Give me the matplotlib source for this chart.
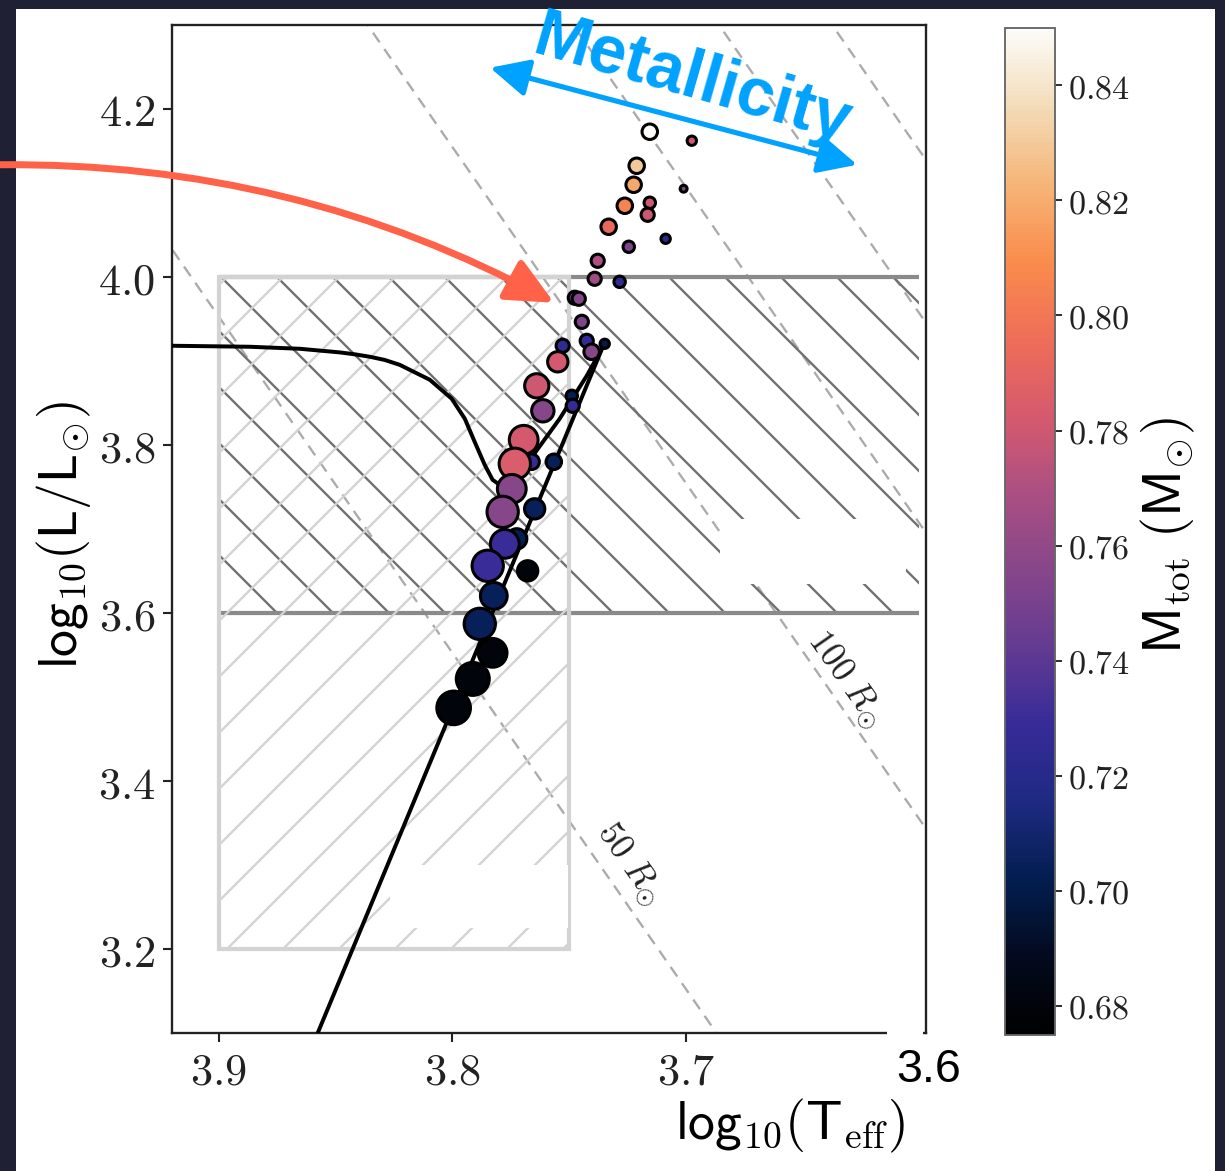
import numpy as np
import matplotlib
matplotlib.use('Agg')
import matplotlib.pyplot as plt
from matplotlib.colors import LinearSegmentedColormap, Normalize
from matplotlib.patches import Rectangle, FancyArrowPatch
from matplotlib.ticker import FormatStrFormatter

# stars: log Teff, log L, total mass (Msun), marker area (pt^2)
log_teff = [3.7154, 3.6974, 3.7210, 3.7223, 3.7009, 3.7261, 3.7154, 3.7163,
            3.7330, 3.7086, 3.7244, 3.7377, 3.7390, 3.7283, 3.7475, 3.7458,
            3.7445, 3.7527, 3.7424, 3.7403, 3.7347, 3.7548, 3.7638, 3.7488,
            3.7484, 3.7612, 3.7694, 3.7660, 3.7565, 3.7732, 3.7745, 3.7784,
            3.7647, 3.7724, 3.7775, 3.7677, 3.7848, 3.7822, 3.7882, 3.7827,
            3.7912, 3.7994]
log_lum = [4.1726, 4.1619, 4.1321, 4.1095, 4.1048, 4.0845, 4.0881, 4.0738,
           4.0595, 4.0452, 4.0357, 4.0190, 3.9976, 3.9940, 3.9750, 3.9738,
           3.9464, 3.9179, 3.9238, 3.9107, 3.9202, 3.8988, 3.8702, 3.8583,
           3.8464, 3.8405, 3.8060, 3.7798, 3.7798, 3.7774, 3.7476, 3.7202,
           3.7238, 3.6881, 3.6821, 3.6500, 3.6560, 3.6202, 3.5869, 3.5524,
           3.5214, 3.4869]
m_tot = [0.850, 0.780, 0.830, 0.818, 0.755, 0.805, 0.780, 0.780,
         0.792, 0.722, 0.752, 0.770, 0.765, 0.725, 0.742, 0.755,
         0.752, 0.725, 0.728, 0.755, 0.700, 0.782, 0.780, 0.703,
         0.727, 0.755, 0.782, 0.727, 0.705, 0.785, 0.755, 0.756,
         0.705, 0.703, 0.730, 0.680, 0.730, 0.705, 0.705, 0.680,
         0.680, 0.680]
marker_size = [11, 4, 11, 11, 2.2, 11, 6, 8,
               11, 4, 6, 8, 8, 6, 8, 8,
               8, 8, 8, 11, 4, 19, 27, 6,
               8, 23, 38, 11, 11, 45, 38, 45,
               19, 19, 38, 19, 45, 33, 45, 38,
               50, 52]

# evolutionary track and RGB line
track_teff = [3.9201, 3.8867, 3.8653, 3.8482, 3.8417, 3.8353, 3.8289, 3.8225,
              3.8096, 3.8002, 3.7946, 3.7904, 3.7861, 3.7827, 3.7797, 3.7754,
              3.7655, 3.7540, 3.7424, 3.7355]
track_lum = [3.9179, 3.9167, 3.9143, 3.9100, 3.9077, 3.9048, 3.9010, 3.8952,
             3.8774, 3.8548, 3.8310, 3.8036, 3.7762, 3.7583, 3.7524, 3.7595,
             3.7869, 3.8310, 3.8821, 3.9167]
rgb_teff = [3.8576, 3.7355]
rgb_lum = [3.10, 3.9167]

# iso-radius lines (Rsun)
radii = [50, 100, 150, 200, 250]
log_tsun = np.log10(5772.0)

plt.rcParams['mathtext.fontset'] = 'cm'
plt.rcParams['font.family'] = ['DejaVu Serif']
plt.rcParams['hatch.linewidth'] = 0.5

W, H = 1225, 1171
DPI = 336
fig = plt.figure(figsize=((W + 0.3) / DPI, (H + 0.3) / DPI), dpi=DPI)
fig.patch.set_facecolor('#1f2034')


def fx(px):
    return px / W


def fy(py):
    return 1 - py / H


# white slide panel
fig.add_artist(Rectangle((fx(16), 0), fx(1215) - fx(16), fy(9), transform=fig.transFigure,
                         facecolor='white', edgecolor='none', zorder=-5))

ax = fig.add_axes([fx(172), fy(1033), fx(926) - fx(172), fy(25) - fy(1033)])
ax.set_xlim(3.92, 3.597)
ax.set_ylim(3.1, 4.3)

# constant radius lines
tgrid = np.array([3.55, 3.95])
for r in radii:
    ax.plot(tgrid, 2 * np.log10(r) + 4 * (tgrid - log_tsun), color='#ababab', lw=0.5,
            ls=(0, (5, 3.5)), zorder=1)
ax.text(3.6319, 3.5214, r'$100\ R_{\odot}$', rotation=-55, ha='center', va='center',
        rotation_mode='anchor', fontsize=7.5, color='#222222')
ax.text(3.724, 3.3012, r'$50\ R_{\odot}$', rotation=-55, ha='center', va='center',
        rotation_mode='anchor', fontsize=7.5, color='#222222')

# selection boxes
ax.add_patch(Rectangle((3.6, 3.6), 0.3, 0.4, fill=False, hatch='\\\\', edgecolor='#707070',
                       lw=0, zorder=1.5))
ax.hlines([3.6, 4.0], 3.9, 3.6, colors='#8a8a8a', lw=0.9, zorder=2)
ax.add_patch(Rectangle((3.75, 3.2), 0.15, 0.8, fill=False, hatch='//', edgecolor='#d3d3d3',
                       lw=0.9, zorder=2.1))

ax.plot(track_teff, track_lum, color='black', lw=0.85, zorder=3)
ax.plot(rgb_teff, rgb_lum, color='black', lw=0.85, zorder=3)

cmap = LinearSegmentedColormap.from_list('mass', [
    '#000000', '#030a1e', '#021e50', '#1e2a82', '#372b98', '#633b92', '#87468a',
    '#ab4f83', '#d65a6e', '#ef6e58', '#fa8c4c', '#f6b578', '#f3dcb8', '#fdfcfa'])
norm = Normalize(vmin=0.675, vmax=0.85)
sc = ax.scatter(log_teff, log_lum, c=m_tot, s=marker_size, cmap=cmap, norm=norm,
                edgecolors='black', linewidths=0.65, zorder=4)

for sp in ax.spines.values():
    sp.set_linewidth(0.5)
    sp.set_color('#222222')
ax.set_xticks([3.9, 3.8, 3.7])
ax.set_yticks([3.2, 3.4, 3.6, 3.8, 4.0, 4.2])
ax.xaxis.set_major_formatter(FormatStrFormatter(r'$%.1f$'))
ax.yaxis.set_major_formatter(FormatStrFormatter(r'$%.1f$'))
ax.tick_params(direction='out', length=1.9, width=0.45, pad=1.7, labelsize=9.5,
               colors='#222222')

cax = fig.add_axes([fx(1005), fy(1035), fx(1055) - fx(1005), fy(28) - fy(1035)])
cb = fig.colorbar(sc, cax=cax, ticks=[0.68, 0.70, 0.72, 0.74, 0.76, 0.78, 0.80, 0.82, 0.84])
cb.outline.set_linewidth(0.4)
cb.outline.set_edgecolor('#666666')
cax.yaxis.set_major_formatter(FormatStrFormatter(r'$%.2f$'))
cax.tick_params(direction='out', length=1.4, width=0.4, pad=1.4, labelsize=7.3,
                colors='#222222')

# axis labels
fig.text(fx(63), fy(535), r'$\mathsf{log}_{10}\mathsf{(L/L}_{\odot}\mathsf{)}$', rotation=90,
         ha='center', va='center', fontsize=11.5)
fig.text(fx(790), fy(1126), r'$\mathsf{log}_{10}\mathsf{(T}_{\rm eff}\mathsf{)}$',
         ha='center', va='center', fontsize=11.5)
fig.text(fx(1168), fy(535), r'$\mathsf{M}_{\rm tot}\ \mathsf{(M}_{\odot}\mathsf{)}$',
         rotation=90, ha='center', va='center', fontsize=11.5)

# blanked-out areas
for x0, y0, x1, y1 in [(720, 519, 906, 584), (390, 865, 568, 928), (887, 1026, 923, 1045)]:
    fig.add_artist(Rectangle((fx(x0), fy(y1)), fx(x1) - fx(x0), fy(y0) - fy(y1),
                             transform=fig.transFigure, facecolor='white',
                             edgecolor='none', zorder=5))
fig.text(fx(928), fy(1070), '3.6', ha='center', va='center', fontsize=10,
         family='Liberation Sans', color='black', zorder=6)

# annotations
fig.add_artist(FancyArrowPatch((fx(0), fy(165)), (fx(554), fy(303)), transform=fig.transFigure,
                               connectionstyle='arc3,rad=-0.13',
                               arrowstyle='-|>,head_length=8.5,head_width=4',
                               color='#ff6248', lw=1.5, shrinkA=0, shrinkB=0, zorder=10))
fig.add_artist(FancyArrowPatch((fx(490), fy(68)), (fx(857), fy(165)), transform=fig.transFigure,
                               arrowstyle='<|-|>,head_length=7,head_width=3.4',
                               color='#00a2ff', lw=1.1, shrinkA=0, shrinkB=0, zorder=10))
fig.text(fx(692), fy(80), 'Metallicity', rotation=-16, ha='center', va='center',
         fontsize=14.5, fontweight='bold', family='Liberation Sans', color='#00a2ff',
         rotation_mode='anchor', zorder=10)

fig.savefig('out.png', dpi=DPI, facecolor=fig.get_facecolor())
